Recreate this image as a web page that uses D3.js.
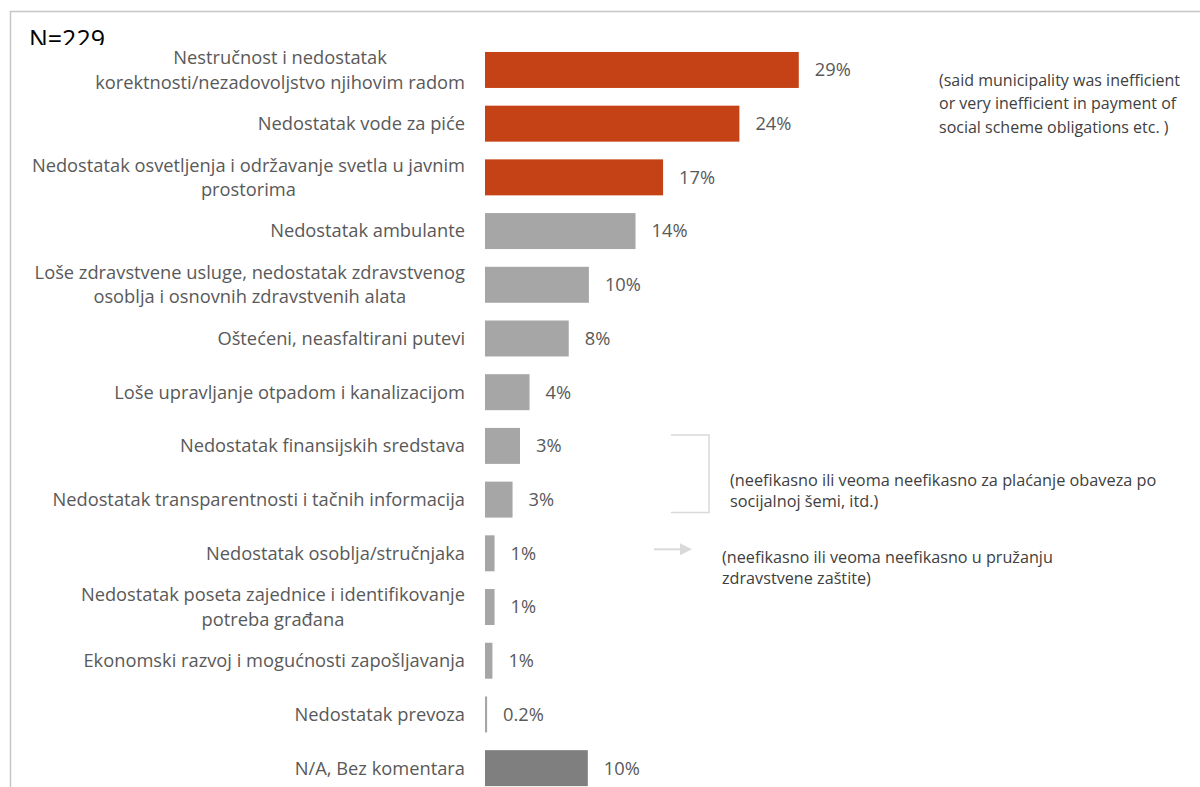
<!DOCTYPE html>
<html lang="sr">
<head>
<meta charset="UTF-8">
<title>N=229</title>
<style>
  html, body { margin: 0; height: 100%; background: #fff; }
  svg { display: block; }
  text { font-family: "Open Sans", "Noto Sans", sans-serif; }
</style>
</head>
<body>
<div class="chart"></div>
<script src="https://d3js.org/d3.v7.min.js"></script>
<script>
// categories, lines split with "\n"
var categories = [
  "Nestručnost i nedostatak\nkorektnosti/nezadovoljstvo njihovim radom",
  "Nedostatak vode za piće",
  "Nedostatak osvetljenja i održavanje svetla u javnim\nprostorima",
  "Nedostatak ambulante",
  "Loše zdravstvene usluge, nedostatak zdravstvenog\nosoblja i osnovnih zdravstvenih alata",
  "Oštećeni, neasfaltirani putevi",
  "Loše upravljanje otpadom i kanalizacijom",
  "Nedostatak finansijskih sredstava",
  "Nedostatak transparentnosti i tačnih informacija",
  "Nedostatak osoblja/stručnjaka",
  "Nedostatak poseta zajednice i identifikovanje\npotreba građana",
  "Ekonomski razvoj i mogućnosti zapošljavanja",
  "Nedostatak prevoza",
  "N/A, Bez komentara"
];
var values = [29.6, 24.0, 16.8, 14.2, 9.8, 7.9, 4.2, 3.3, 2.6, 0.9, 0.9, 0.7, 0.2, 9.7];
var valueLabels = ["29%", "24%", "17%", "14%", "10%", "8%", "4%", "3%", "3%", "1%", "1%", "1%", "0.2%", "10%"];
var groups = ["top", "top", "top", "other", "other", "other", "other", "other", "other", "other", "other", "other", "other", "na"];

var sampleNote = "N=229";
var noteEn = ["(said municipality was inefficient", "or very inefficient in payment of", "social scheme obligations etc. )"];
var notePay = ["(neefikasno ili veoma neefikasno za plaćanje obaveza po", "socijalnoj šemi, itd.)"];
var noteHealth = ["(neefikasno ili veoma neefikasno u pružanju", "zdravstvene zaštite)"];

var width = 1200, height = 787;
var color = { top: "#C54116", other: "#A6A6A6", na: "#7F7F7F" };

var svg = d3.select(".chart").append("svg")
  .attr("width", width)
  .attr("height", height);

// frame
svg.append("path")
  .attr("d", "M10.5,787 L10.5,11.5 L1200,11.5")
  .attr("fill", "none")
  .attr("stroke", "#c6c6c6")
  .attr("stroke-width", 1.5);

var x = d3.scaleLinear().domain([0, 10]).range([485, 591]);
var y = d3.scaleBand()
  .domain(categories)
  .range([43.1, 795])
  .paddingInner(0.33)
  .paddingOuter(0.165);

// N=229, bottom clipped like in the original
svg.append("clipPath").attr("id", "nclip")
  .append("rect").attr("x", 0).attr("y", 0).attr("width", 200).attr("height", 45);
svg.append("text")
  .attr("clip-path", "url(#nclip)")
  .attr("x", 29).attr("y", 48)
  .attr("font-size", 25)
  .attr("fill", "#000")
  .text(sampleNote);

// bars
svg.selectAll("rect.bar")
  .data(values)
  .join("rect")
  .attr("class", "bar")
  .attr("x", x(0))
  .attr("y", (d, i) => y(categories[i]))
  .attr("width", d => x(d) - x(0))
  .attr("height", y.bandwidth())
  .attr("fill", (d, i) => color[groups[i]]);

// value labels
svg.selectAll("text.val")
  .data(values)
  .join("text")
  .attr("class", "val")
  .attr("x", d => x(d) + 16)
  .attr("y", (d, i) => y(categories[i]) + y.bandwidth() / 2)
  .attr("dy", "0.35em")
  .attr("font-size", 18.3)
  .attr("fill", "#595959")
  .text((d, i) => valueLabels[i]);

// category labels: block right-aligned at 465, lines centred inside the block
var lineH = 24.5, labelRight = 465;
svg.selectAll("text.cat")
  .data(categories)
  .join("text")
  .attr("class", "cat")
  .attr("text-anchor", "middle")
  .attr("font-size", 18.3)
  .attr("fill", "#595959")
  .each(function (d) {
    var lines = d.split("\n");
    var cy = y(d) + y.bandwidth() / 2;
    var t = d3.select(this);
    var spans = lines.map(function (ln, k) {
      return t.append("tspan")
        .attr("y", cy + (k - (lines.length - 1) / 2) * lineH)
        .attr("dy", "0.35em")
        .text(ln);
    });
    var maxW = d3.max(spans, s => s.node().getComputedTextLength());
    spans.forEach(s => s.attr("x", labelRight - maxW / 2));
  });

function multiline(lines, x0, y0, lh, size) {
  var t = svg.append("text").attr("font-size", size).attr("fill", "#404040");
  lines.forEach(function (ln, k) {
    t.append("tspan").attr("x", x0).attr("y", y0 + k * lh).attr("dy", "0.35em").text(ln);
  });
}

// right-hand notes
multiline(noteEn, 939, 80, 23.5, 16);

// bracket for the two finance rows
var bTop = y(categories[7]) + 7, bBot = y(categories[8]) + y.bandwidth() - 5;
svg.append("path")
  .attr("d", `M671,${bTop} L709,${bTop} L709,${bBot} L671,${bBot}`)
  .attr("fill", "none")
  .attr("stroke", "#d9d9d9")
  .attr("stroke-width", 1.5);
multiline(notePay, 730, 480, 21, 16.3);

// arrow for staff row
var aY = y(categories[9]) + y.bandwidth() / 2 - 4;
svg.append("line")
  .attr("x1", 654).attr("x2", 680)
  .attr("y1", aY).attr("y2", aY)
  .attr("stroke", "#d9d9d9").attr("stroke-width", 2);
svg.append("path")
  .attr("d", `M680,${aY - 6} L692,${aY} L680,${aY + 6} Z`)
  .attr("fill", "#d9d9d9");
multiline(noteHealth, 722, 557, 21, 16.2);
</script>
</body>
</html>
